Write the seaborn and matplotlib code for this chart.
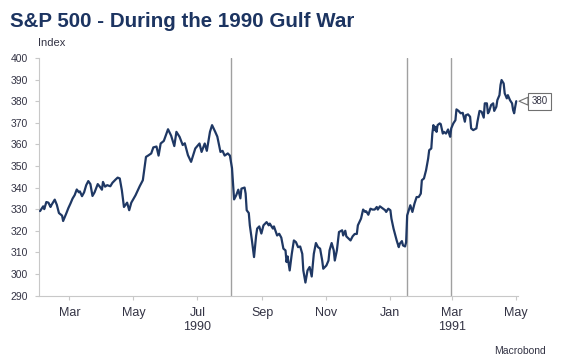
import matplotlib
matplotlib.use("Agg")
import matplotlib.pyplot as plt
import seaborn as sns
import pandas as pd

# ---------------- data ----------------
dates = [
    "1990-02-01", "1990-02-04", "1990-02-05", "1990-02-07", "1990-02-09", "1990-02-11", "1990-02-12",
    "1990-02-15", "1990-02-17", "1990-02-19", "1990-02-22", "1990-02-23", "1990-02-26", "1990-02-28",
    "1990-03-02", "1990-03-04", "1990-03-06", "1990-03-08", "1990-03-10", "1990-03-11", "1990-03-13",
    "1990-03-15", "1990-03-17", "1990-03-19", "1990-03-21", "1990-03-23", "1990-03-25", "1990-03-28",
    "1990-03-30",
    "1990-04-01", "1990-04-02", "1990-04-04", "1990-04-06", "1990-04-09", "1990-04-11", "1990-04-14",
    "1990-04-16", "1990-04-18", "1990-04-20", "1990-04-22", "1990-04-25", "1990-04-27", "1990-04-29",
    "1990-05-03", "1990-05-07", "1990-05-10", "1990-05-13", "1990-05-15", "1990-05-18", "1990-05-20",
    "1990-05-23", "1990-05-25", "1990-05-27", "1990-05-30",
    "1990-06-03", "1990-06-06", "1990-06-09", "1990-06-11", "1990-06-14", "1990-06-17", "1990-06-19",
    "1990-06-22", "1990-06-25", "1990-06-29",
    "1990-07-03", "1990-07-05", "1990-07-08", "1990-07-10", "1990-07-13", "1990-07-15", "1990-07-18",
    "1990-07-20", "1990-07-23", "1990-07-25", "1990-07-27", "1990-07-30",
    "1990-08-01", "1990-08-03", "1990-08-05", "1990-08-07", "1990-08-09", "1990-08-11", "1990-08-12",
    "1990-08-15", "1990-08-16", "1990-08-17", "1990-08-19", "1990-08-20", "1990-08-22", "1990-08-24",
    "1990-08-26", "1990-08-27", "1990-08-29", "1990-08-31",
    "1990-09-02", "1990-09-05", "1990-09-07", "1990-09-08", "1990-09-11", "1990-09-12", "1990-09-15",
    "1990-09-17", "1990-09-19", "1990-09-21", "1990-09-23", "1990-09-24", "1990-09-25", "1990-09-27",
    "1990-09-29",
    "1990-10-01", "1990-10-03", "1990-10-05", "1990-10-07", "1990-10-09", "1990-10-10", "1990-10-12",
    "1990-10-14", "1990-10-16", "1990-10-18", "1990-10-20", "1990-10-22", "1990-10-24", "1990-10-26",
    "1990-10-28", "1990-10-29",
    "1990-11-01", "1990-11-03", "1990-11-04", "1990-11-06", "1990-11-08", "1990-11-09", "1990-11-11",
    "1990-11-13", "1990-11-16", "1990-11-17", "1990-11-19", "1990-11-20", "1990-11-24", "1990-11-26",
    "1990-11-28", "1990-11-30",
    "1990-12-01", "1990-12-04", "1990-12-06", "1990-12-08", "1990-12-09", "1990-12-11", "1990-12-13",
    "1990-12-15", "1990-12-17", "1990-12-19", "1990-12-20", "1990-12-22", "1990-12-25", "1990-12-27",
    "1990-12-28", "1990-12-30",
    "1991-01-01", "1991-01-02", "1991-01-04", "1991-01-07", "1991-01-09", "1991-01-10", "1991-01-12",
    "1991-01-13", "1991-01-15", "1991-01-16", "1991-01-17", "1991-01-20", "1991-01-22", "1991-01-24",
    "1991-01-26", "1991-01-28", "1991-01-30", "1991-01-31",
    "1991-02-02", "1991-02-04", "1991-02-06", "1991-02-07", "1991-02-09", "1991-02-10", "1991-02-11",
    "1991-02-12", "1991-02-13", "1991-02-14", "1991-02-15", "1991-02-17", "1991-02-18", "1991-02-20",
    "1991-02-21", "1991-02-23", "1991-02-25", "1991-02-26", "1991-02-27", "1991-02-28",
    "1991-03-02", "1991-03-04", "1991-03-05", "1991-03-07", "1991-03-09", "1991-03-11", "1991-03-13",
    "1991-03-14", "1991-03-16", "1991-03-18", "1991-03-19", "1991-03-21", "1991-03-24", "1991-03-25",
    "1991-03-27", "1991-03-29", "1991-03-31",
    "1991-04-01", "1991-04-03", "1991-04-04", "1991-04-05", "1991-04-07", "1991-04-09", "1991-04-10",
    "1991-04-12", "1991-04-13", "1991-04-15", "1991-04-16", "1991-04-17", "1991-04-19", "1991-04-20",
    "1991-04-22", "1991-04-23", "1991-04-25", "1991-04-27", "1991-04-28", "1991-04-29", "1991-04-30",
    "1991-05-01",
]
values = [
    329.1, 331.3, 330.0, 333.3, 333.0, 331.0, 332.0,
    334.4, 332.0, 328.2, 327.0, 324.5, 328.0, 330.5,
    332.6, 334.9, 336.5, 339.1, 337.8, 338.2, 336.0,
    337.8, 341.1, 343.0, 341.6, 336.1, 337.8, 341.6,
    340.4,
    339.0, 342.6, 340.4, 341.1, 340.6, 342.2, 343.7,
    344.6, 344.2, 338.7, 331.0, 333.0, 329.5, 333.0,
    336.4, 340.6, 343.4, 354.2, 354.8, 355.8, 358.6,
    359.0, 354.8, 360.4, 361.6,
    367.0, 364.0, 359.2, 365.8, 363.5, 359.7, 360.5,
    355.0, 351.9, 358.1,
    360.4, 356.5, 360.4, 357.0, 365.8, 368.9, 365.8,
    363.6, 356.5, 357.0, 354.8, 355.8,
    354.8, 349.0, 334.5, 336.4, 339.0, 335.0, 339.5,
    340.0, 337.2, 329.5, 328.2, 322.5, 315.5, 307.8,
    317.7, 321.0, 322.0, 318.7,
    322.5, 324.0, 322.5, 323.3, 321.0, 322.0, 317.8,
    318.6, 316.8, 311.7, 310.9, 305.5, 308.1, 301.6,
    309.3,
    315.5, 314.7, 312.4, 312.7, 309.3, 301.6, 296.0,
    301.6, 303.2, 298.8, 309.3, 314.3, 312.4, 311.7,
    306.2, 302.4,
    303.9, 306.2, 310.9, 314.3, 310.9, 306.2, 310.9,
    319.4, 320.2, 317.8, 320.0, 317.4, 315.5, 317.4,
    318.5, 318.5,
    322.5, 325.6, 329.8, 328.7, 329.0, 327.4, 330.2,
    329.8, 329.8, 331.0, 329.8, 331.3, 330.2, 329.5,
    328.7, 330.2,
    329.5, 325.6, 321.0, 315.5, 312.4, 314.0, 315.2,
    313.2, 312.7, 314.7, 327.1, 331.8, 328.7, 332.6,
    335.6, 335.6, 337.2, 343.4,
    344.2, 348.0, 353.4, 357.3, 358.1, 365.0, 368.9,
    366.6, 368.1, 365.8, 368.9, 369.7, 369.4, 365.0,
    365.8, 365.0, 366.9, 365.0, 363.5, 367.4,
    369.7, 371.2, 376.2, 375.5, 374.4, 374.6, 370.5,
    373.5, 373.9, 372.8, 367.4, 366.6, 367.4, 370.5,
    375.5, 375.1, 372.4,
    379.0, 379.0, 374.4, 375.1, 378.2, 379.0, 375.5,
    377.4, 380.5, 382.8, 387.5, 389.8, 388.2, 383.6,
    381.3, 382.8, 380.5, 379.0, 375.9, 374.4, 377.4,
    380.0,
]

event_dates = ["1990-08-02", "1991-01-17", "1991-02-28"]
tick_dates = ["1990-03-01", "1990-05-01", "1990-07-01", "1990-09-01",
              "1990-11-01", "1991-01-01", "1991-03-01", "1991-05-01"]
tick_labels = ["Mar", "May", "Jul\n1990", "Sep", "Nov", "Jan", "Mar\n1991", "May"]
y_ticks = [290, 300, 310, 320, 330, 340, 350, 360, 370, 380, 390, 400]

title = "S&P 500 - During the 1990 Gulf War"
unit_label = "Index"
source = "Macrobond"

# ---------------- plot ----------------
sns.set_style("white")
plt.rcParams["font.family"] = ["Liberation Sans", "DejaVu Sans"]

W, H = 564, 357
fig = plt.figure(figsize=(W / 100, H / 100), dpi=100)
fig.patch.set_facecolor("white")
ax = fig.add_axes([39 / W, 1 - 295.5 / H, (518 - 39) / W, (295.5 - 58) / H])

df = pd.DataFrame({"date": pd.to_datetime(dates), "value": values})
line_color = "#1f3864"

for d in event_dates:
    ax.axvline(pd.Timestamp(d), color="#a0a0a0", lw=1.0, zorder=1)

sns.lineplot(data=df, x="date", y="value", color=line_color, linewidth=1.6, ax=ax, zorder=3)

ax.set_xlim(pd.Timestamp("1990-01-31"), pd.Timestamp("1991-05-02 16:00"))
ax.set_ylim(290, 400)
ax.set_yticks(y_ticks)
ax.set_xticks(pd.to_datetime(tick_dates))
ax.set_xticklabels(tick_labels)
ax.set_xlabel("")
ax.set_ylabel("")

for s in ["top", "right"]:
    ax.spines[s].set_visible(False)
for s in ["left", "bottom"]:
    ax.spines[s].set_color("#c8c8c8")
    ax.spines[s].set_linewidth(0.8)

text_color = "#333344"
ax.tick_params(axis="y", which="major", length=3, width=0.8, color="#c8c8c8",
               labelsize=7.5, labelcolor=text_color, pad=5, left=True)
ax.tick_params(axis="x", which="major", length=3, width=0.8, color="#c8c8c8",
               labelsize=9, labelcolor=text_color, pad=5, bottom=True)
for lbl in ax.get_xticklabels():
    lbl.set_linespacing(1.25)

fig.text(10 / W, 1 - 27 / H, title, fontsize=14.8, fontweight="bold",
         color="#1c3461", ha="left", va="baseline")
fig.text(38 / W, 1 - 43 / H, unit_label, fontsize=8, color=text_color,
         ha="left", va="center")
fig.text(546 / W, 1 - 351 / H, source, fontsize=7.5, color=text_color,
         ha="right", va="center")

last_date = df["date"].iloc[-1]
last_val = df["value"].iloc[-1]
ax.annotate(f"{last_val:.0f}", xy=(last_date, last_val), xytext=(17, 0),
            textcoords="offset points", ha="center", va="center",
            fontsize=7, color=text_color, annotation_clip=False,
            bbox=dict(boxstyle="square,pad=0.35", fc="white", ec="#707070", lw=0.8),
            arrowprops=dict(arrowstyle="wedge,tail_width=0.8,shrink_factor=0.5",
                            fc="white", ec="#707070", lw=0.8, shrinkA=0, shrinkB=2),
            zorder=5)

fig.savefig("out.png", dpi=100, facecolor="white")
